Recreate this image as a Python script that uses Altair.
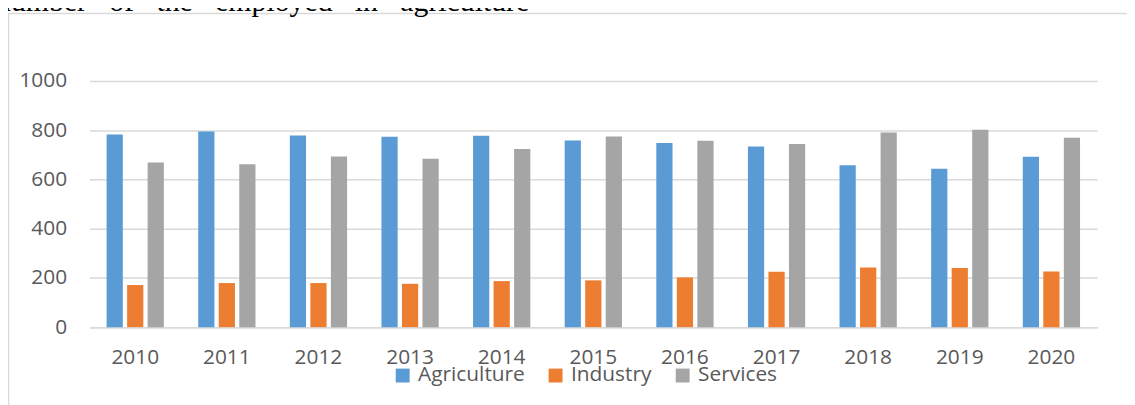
import altair as alt
import pandas as pd

years = ["2010", "2011", "2012", "2013", "2014", "2015", "2016", "2017", "2018", "2019", "2020"]
agriculture = [782, 795, 778, 773, 777, 758, 748, 734, 657, 643, 692]
industry = [171, 179, 179, 176, 187, 190, 202, 225, 242, 240, 226]
services = [669, 661, 693, 684, 723, 774, 757, 744, 790, 802, 769]
sectors = ["Agriculture", "Industry", "Services"]
colors = ["#5B9BD5", "#ED7D31", "#A5A5A5"]
y_ticks = [0, 200, 400, 600, 800, 1000]
title_text = "\u00a0\u00a0\u00a0".join(["number", "of", "the", "employed", "in", "agriculture"])

rows = []
for name, vals in zip(sectors, [agriculture, industry, services]):
    for yr, v in zip(years, vals):
        rows.append({"year": yr, "sector": name, "value": v})
df = pd.DataFrame(rows)

FONT = "Open Sans"
LABEL = "#595959"
GRID = "#D9D9D9"

bars = alt.Chart(df).mark_bar().encode(
    x=alt.X("year:N", sort=years,
            scale=alt.Scale(paddingInner=0.375, paddingOuter=0.1875),
            axis=alt.Axis(title=None, labelAngle=0, ticks=False, domainColor=GRID,
                          domainWidth=1.5, labelFont=FONT, labelFontSize=21,
                          labelColor=LABEL, labelPadding=31, labelBaseline="middle")),
    xOffset=alt.XOffset("sector:N", sort=sectors,
                        scale=alt.Scale(paddingInner=0.21, paddingOuter=0)),
    y=alt.Y("value:Q", scale=alt.Scale(domain=[0, 1000]),
            axis=alt.Axis(title=None, values=y_ticks, format="d", domain=False, ticks=False,
                          gridColor=GRID, gridWidth=1.5, labelFont=FONT,
                          labelFontSize=21, labelColor=LABEL, labelPadding=23)),
    color=alt.Color("sector:N", sort=sectors,
                    scale=alt.Scale(domain=sectors, range=colors),
                    legend=alt.Legend(title=None, orient="none", legendX=305, legendY=286,
                                      direction="horizontal", symbolType="square",
                                      symbolSize=196, symbolStrokeWidth=0,
                                      labelFont=FONT, labelFontSize=21, labelColor=LABEL,
                                      labelOffset=5, columnPadding=20)),
)

deco = pd.DataFrame({"k": [0]})
left_line = alt.Chart(deco).mark_rule(color=GRID, strokeWidth=1.5).encode(
    x=alt.value(-81.5), y=alt.value(-68), y2=alt.value(330))
top_line = alt.Chart(deco).mark_rule(color=GRID, strokeWidth=1.5).encode(
    x=alt.value(-82), x2=alt.value(1050), y=alt.value(-68))
title = alt.Chart(deco).mark_text(
    text=title_text, font="Liberation Serif", fontSize=30, align="left",
    baseline="alphabetic", color="#000000").encode(
    x=alt.value(-94), y=alt.value(-70))

chart = alt.layer(bars, left_line, top_line, title).properties(
    width=1015, height=248,
    autosize=alt.AutoSizeParams(type="none"),
    padding={"left": 82, "top": 72, "right": 30, "bottom": 77},
).configure_view(stroke=None)

chart.save("out.html", embed_options={"renderer": "svg", "actions": False})
